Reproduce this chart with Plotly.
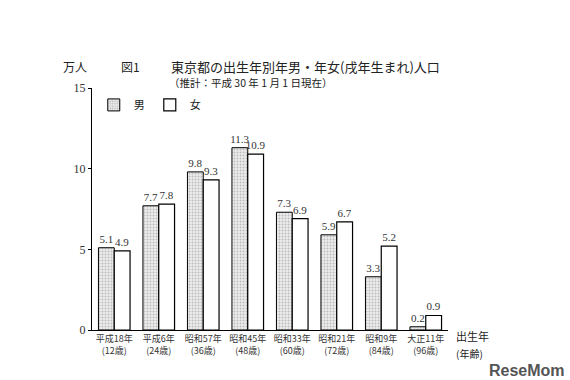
import plotly.graph_objects as go

categories = ["平成18年<br>(12歳)", "平成6年<br>(24歳)", "昭和57年<br>(36歳)", "昭和45年<br>(48歳)",
              "昭和33年<br>(60歳)", "昭和21年<br>(72歳)", "昭和9年<br>(84歳)", "大正11年<br>(96歳)"]
male = [5.1, 7.7, 9.8, 11.3, 7.3, 5.9, 3.3, 0.2]
female = [4.9, 7.8, 9.3, 10.9, 6.9, 6.7, 5.2, 0.9]
y_ticks = [0, 5, 10, 15]

serif = "Liberation Serif"
cjk = "Noto Sans CJK JP"

fig = go.Figure()
fig.add_trace(go.Bar(
    x=categories, y=male, name="男",
    marker=dict(color="#dcdcdc", line=dict(color="black", width=1),
                pattern=dict(shape=".", fgcolor="#888888", bgcolor="#ececec", size=3, solidity=0.3)),
    text=[f"{v:.1f}" for v in male], textposition="outside", cliponaxis=False, constraintext="none",
    textfont=dict(family=serif, size=11, color="#333333"),
))
fig.add_trace(go.Bar(
    x=categories, y=female, name="女",
    marker=dict(color="white", line=dict(color="black", width=1.2)),
    text=[f"{v:.1f}" for v in female], textposition="outside", cliponaxis=False, constraintext="none",
    textfont=dict(family=serif, size=11, color="#333333"),
))

pl, pr, pt, pb = 92, 448, 88, 330
fig.update_layout(
    width=570, height=380,
    margin=dict(l=pl, r=570 - pr, t=pt, b=380 - pb),
    paper_bgcolor="white", plot_bgcolor="white",
    barmode="group", bargap=0.29, bargroupgap=0.0,
    font=dict(family=cjk, size=11, color="#222222"),
    showlegend=True,
    legend=dict(orientation="h", x=0.005, y=0.99, xanchor="left", yanchor="top",
                font=dict(family=cjk, size=11), itemwidth=30, bgcolor="rgba(0,0,0,0)"),
    xaxis=dict(showline=True, linecolor="black", linewidth=1, ticks="",
               tickfont=dict(family=cjk, size=9, color="#333333"), showgrid=False),
    yaxis=dict(range=[0, 15], tickvals=y_ticks, showline=True, linecolor="black", linewidth=1,
               ticks="outside", ticklen=3, tickcolor="black", showgrid=False, zeroline=False,
               tickfont=dict(family=serif, size=12, color="#333333")),
)

# text placed by pixel positions (converted to paper coordinates)
ann_specs = [
    ("万人", 62, 66, 12, cjk, "#222222", "left"),
    ("図1", 120, 66, 12, cjk, "#222222", "left"),
    ("東京都の出生年別年男・年女(戌年生まれ)人口", 170, 66, 13, cjk, "#222222", "left"),
    ("（推計：平成 30 年 1 月 1 日現在）", 168, 83, 10.5, cjk, "#222222", "left"),
    ("出生年", 455, 336, 11, cjk, "#222222", "left"),
    ("(年齢)", 455, 353, 10, cjk, "#222222", "left"),
    ("<b>ReseMom</b>", 566, 370, 16, "Liberation Sans", "#555555", "right"),
]
anns = []
for text, px, py, size, fam, col, anchor in ann_specs:
    anns.append(dict(
        text=text, showarrow=False, xref="paper", yref="paper",
        x=(px - pl) / (pr - pl), y=(pb - py) / (pb - pt),
        xanchor=anchor, yanchor="middle", align="left", borderpad=0,
        font=dict(family=fam, size=size, color=col),
    ))
fig.update_layout(annotations=anns)

fig.write_html("out.html", config={"displayModeBar": False},
               post_script="document.body.style.margin='0';")
